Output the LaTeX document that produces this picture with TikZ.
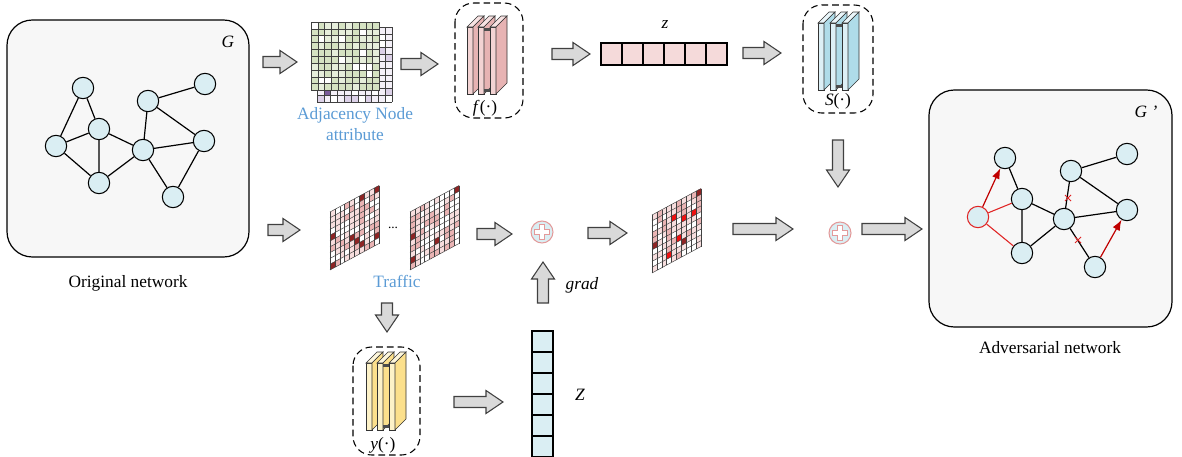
\documentclass[tikz,border=0pt]{standalone}
\usepackage{fontspec}
\setmainfont{Liberation Serif}
\usetikzlibrary{arrows.meta}

\definecolor{nodefill}{HTML}{DAEEF3}
\definecolor{panelfill}{HTML}{F7F7F7}
\definecolor{arrowfill}{HTML}{D9D9D9}
\definecolor{arrowline}{HTML}{404040}
\definecolor{captionblue}{HTML}{5B9BD5}
\definecolor{attackred}{HTML}{E02424}
\definecolor{arrowred}{HTML}{C00000}
\definecolor{plusline}{HTML}{E39A9A}
\definecolor{pkfront}{HTML}{F3D3D3}
\definecolor{pktop}{HTML}{F8E3E3}
\definecolor{pkside}{HTML}{E7B3B3}
\definecolor{blfront}{HTML}{DDF0F6}
\definecolor{bltop}{HTML}{EAF6FA}
\definecolor{blside}{HTML}{AFDCE9}
\definecolor{ywfront}{HTML}{FDF2C8}
\definecolor{ywtop}{HTML}{FEF7DC}
\definecolor{ywside}{HTML}{FCE08C}
\definecolor{zpink}{HTML}{F5DADA}
\definecolor{zblue}{HTML}{DAEEF3}
\definecolor{tpinkA}{HTML}{F7DEDE}
\definecolor{tpinkB}{HTML}{EAB4B4}
\definecolor{tdark}{HTML}{8E2424}
\definecolor{tred}{HTML}{F01010}
\definecolor{gA}{HTML}{D5E2C2}
\definecolor{gB}{HTML}{E6EEDB}
\definecolor{lvA}{HTML}{F4F0F8}
\definecolor{lvB}{HTML}{DCD1E8}
\definecolor{lvC}{HTML}{7B5C9B}

\tikzset{
  panel/.style={draw=black, line width=0.9pt, fill=panelfill, rounded corners=19pt},
  gnode/.style={circle, draw=black, fill=nodefill, line width=0.8pt, minimum size=16pt, inner sep=0pt},
  gedge/.style={line width=0.9pt},
  redge/.style={attackred, line width=0.8pt},
  rarrow/.style={arrowred, line width=0.9pt, -{Latex[length=8pt,width=6pt]}},
  dashbox/.style={draw=black, line width=0.8pt, dash pattern=on 5pt off 3pt, rounded corners=14pt},
  slabline/.style={draw=black!80, line width=0.5pt},
  cellline/.style={draw=black!75, line width=0.35pt},
  lbl/.style={inner sep=0pt},
  pics/barrow/.style={code={
    \draw[fill=arrowfill, draw=arrowline, line width=0.8pt]
      (0,-5.5) -- (#1-17,-5.5) -- (#1-17,-11.5) -- (#1,0) -- (#1-17,11.5) -- (#1-17,5.5) -- (0,5.5) -- cycle;}},
  pics/slab/.style={code={
    \draw[slabline, fill=#1front] (0,0) rectangle (6,67);
    \draw[slabline, fill=#1top] (0,0) -- (11,-11) -- (17,-11) -- (6,0) -- cycle;
    \draw[slabline, fill=#1side] (6,0) -- (17,-11) -- (17,56) -- (6,67) -- cycle;}},
  pics/plusmark/.style={code={
    \draw[plusline, fill=white, line width=0.7pt]
      (-2.8,-7.5) -- (2.8,-7.5) -- (2.8,-2.8) -- (7.5,-2.8) -- (7.5,2.8) -- (2.8,2.8)
      -- (2.8,7.5) -- (-2.8,7.5) -- (-2.8,2.8) -- (-7.5,2.8) -- (-7.5,-2.8) -- (-2.8,-2.8) -- cycle;}},
}

% skewed traffic matrix: origin, random seed, list of i/j/colour cells
\newcommand\skewgrid[3]{%
  \begin{scope}[shift={#1}, x={(3.675pt,1.9875pt)}, y={(0pt,-4.35pt)}]
    \pgfmathsetseed{#2}%
    \foreach \i in {0,...,9}{%
      \foreach \j in {0,...,9}{%
        \pgfmathrandominteger{\rv}{1}{100}%
        \ifnum\rv<36 \def\cc{white}\else\ifnum\rv<74 \def\cc{tpinkA}\else\ifnum\rv<98 \def\cc{tpinkB}\else\def\cc{tdark}\fi\fi\fi
        \fill[\cc] (\i,\j) -- ++(1,0) -- ++(0,1) -- ++(-1,0) -- cycle;
      }}%
    \foreach \i/\j/\cl in {#3}{\fill[\cl] (\i,\j) -- ++(1,0) -- ++(0,1) -- ++(-1,0) -- cycle;}%
    \foreach \k in {0,...,10}{\draw[cellline] (\k,0) -- (\k,10); \draw[cellline] (0,\k) -- (10,\k);}%
  \end{scope}}

\begin{document}
\begin{tikzpicture}[x=0.75pt, y=-0.75pt, font=\fontsize{13}{15}\selectfont]
\useasboundingbox (0,0) rectangle (1182,457);

% ---------- original network ----------
\draw[panel] (7,20) rectangle (249,257);
\node[lbl] (glabel) at (228,42) {\textit{G}};
\node[gnode] (a) at (83,88) {};
\node[gnode] (b) at (99,129) {};
\node[gnode] (c) at (56,146) {};
\node[gnode] (d) at (99,183) {};
\node[gnode] (e) at (143,150) {};
\node[gnode] (f) at (148,101) {};
\node[gnode] (g) at (205,84) {};
\node[gnode] (h) at (204,141) {};
\node[gnode] (i) at (173,197) {};
\draw[gedge] (a)--(c) (a)--(b) (c)--(b) (b)--(d) (c)--(d) (b)--(e) (d)--(e)
  (e)--(f) (f)--(g) (f)--(h) (e)--(h) (e)--(i) (h)--(i);
\node (cap1) at (128,283) {Original network};

% ---------- adjacency and attribute matrices ----------
\pgfmathsetseed{23}
\foreach \i in {0,...,10}{\foreach \j in {0,...,10}{
  \pgfmathrandominteger{\rv}{1}{100}
  \ifnum\rv<70 \def\cc{lvA}\else\ifnum\rv<90 \def\cc{white}\else\def\cc{lvB}\fi\fi
  \fill[\cc] (317+\i*6.82,27+\j*6.82) rectangle ++(6.82,6.82);
}}
\foreach \i/\j/\cl in {1/9/lvC, 7/10/lvB, 0/10/lvB, 4/10/lvB, 10/4/lvB, 9/3/lvB, 10/9/lvB}{
  \fill[\cl] (317+\i*6.82,27+\j*6.82) rectangle ++(6.82,6.82);}
\foreach \k in {0,...,11}{
  \draw[cellline] (317+\k*6.82,27) -- ++(0,75);
  \draw[cellline] (317,27+\k*6.82) -- ++(75,0);}
\pgfmathsetseed{5}
\foreach \i in {0,...,9}{\foreach \j in {0,...,9}{
  \pgfmathrandominteger{\rv}{1}{100}
  \ifnum\rv<9 \def\cc{white}\else\ifnum\rv<40 \def\cc{gB}\else\def\cc{gA}\fi\fi
  \fill[\cc] (311+\i*6.85,22+\j*6.85) rectangle ++(6.85,6.85);
}}
\foreach \k in {0,...,10}{
  \draw[cellline] (311+\k*6.85,22) -- ++(0,68.5);
  \draw[cellline] (311,22+\k*6.85) -- ++(68.5,0);}
\node[text=captionblue] (adjcap) at (355,115) {Adjacency Node};
\node[text=captionblue] (attcap) at (355,135) {attribute};

% ---------- encoder f ----------
\draw[dashbox] (455,3) rectangle (523,118);
\pic at (467,27) {slab=pk};
\pic at (478,27) {slab=pk};
\fill[black!70] (484,28) rectangle (490,31);
\fill[black!70] (484,89) rectangle (490,92);
\pic at (490,27) {slab=pk};
\node[lbl] (flabel) at (485,108) {\textit{f}(·)};

% ---------- latent vector z ----------
\foreach \k in {0,...,5}{\draw[fill=zpink, line width=0.8pt] (601+\k*21,43) rectangle ++(21,22);}
\node[lbl] (zlabel) at (665,25) {\textit{z}};

% ---------- decoder S ----------
\draw[dashbox] (803,5) rectangle (873,113);
\pic at (818,23) {slab=bl};
\pic at (830,23) {slab=bl};
\fill[black!70] (836,24) rectangle (842,27);
\fill[black!70] (836,85) rectangle (842,88);
\pic at (842,23) {slab=bl};
\node[lbl] (slabel) at (838,101) {\textit{S}(·)};

% ---------- traffic matrices ----------
\skewgrid{(330,212)}{3}{0/4/tdark, 9/0/tdark, 0/9/tdark, 5/7/tdark, 2/4/white, 3/4/white}
\skewgrid{(410,212)}{8}{0/4/tdark, 9/0/tdark, 0/8/tdark, 5/7/tdark, 2/3/white}
\node (dots) at (393,228) {\fontsize{10}{12}\selectfont ...};
\node[text=captionblue] (trcap) at (397,281) {Traffic};

% ---------- perturbed matrix ----------
\skewgrid{(652,215)}{17}{4/2/tred, 6/3/tred, 8/3/tred, 5/6/tred, 6/7/tdark, 3/8/tred, 0/5/tdark, 9/0/tdark, 4/5/white}

% ---------- sum nodes ----------
\node[circle, draw=plusline, fill=nodefill, line width=0.8pt, minimum size=16.5pt, inner sep=0pt] (p1) at (542,232) {};
\pic at (p1) {plusmark};
\node[circle, draw=plusline, fill=nodefill, line width=0.8pt, minimum size=16.5pt, inner sep=0pt] (p2) at (840,233) {};
\pic at (p2) {plusmark};
\node[lbl] (gradlabel) at (582,285) {\textit{grad}};

% ---------- surrogate y and gradient vector Z ----------
\draw[dashbox] (353,347) rectangle (420,455);
\pic at (366,363) {slab=yw};
\pic at (377,363) {slab=yw};
\fill[black!70] (383,364) rectangle (389,367);
\fill[black!70] (383,425) rectangle (389,428);
\pic at (389,363) {slab=yw};
\node[lbl] (ylabel) at (383,445) {\textit{y}(·)};
\foreach \k in {0,...,5}{\draw[fill=zblue, line width=0.8pt] (532,331+\k*21) rectangle ++(21,21);}
\node[lbl] (Zlabel) at (580,395) {\textit{Z}};

% ---------- block arrows ----------
\pic at (263,62) {barrow=34};
\pic at (401,64) {barrow=37};
\pic at (552,54) {barrow=38};
\pic at (743,53) {barrow=38};
\pic[rotate=-90] at (838,140) {barrow=47};
\pic at (268,230) {barrow=32};
\pic at (477,234) {barrow=35};
\pic at (588,233) {barrow=39};
\pic at (733,229) {barrow=60};
\pic at (862,229) {barrow=60};
\pic[rotate=90] at (543,303) {barrow=41};
\pic[rotate=-90] at (387,303) {barrow=29};
\pic at (454,402) {barrow=49};

% ---------- adversarial network ----------
\draw[panel] (929,90) rectangle (1172,327);
\node[lbl] (gplabel) at (1146,112) {\textit{G ’}};
\node[gnode] (ra) at (1005,158) {};
\node[gnode] (rb) at (1022,199) {};
\node[gnode, draw=attackred] (rc) at (978,217) {};
\node[gnode] (rd) at (1022,253) {};
\node[gnode] (re) at (1064,219) {};
\node[gnode] (rf) at (1071,171) {};
\node[gnode] (rg) at (1127,154) {};
\node[gnode] (rh) at (1127,210) {};
\node[gnode] (ri) at (1095,267) {};
\draw[gedge] (rb)--(ra) (rb)--(rd) (rb)--(re) (rd)--(re) (re)--(rf) (rf)--(rg)
  (rf)--(rh) (re)--(rh) (re)--(ri);
\draw[redge] (rc)--(rb) (rc)--(rd);
\draw[rarrow] (rc)--(ra);
\draw[rarrow] (ri)--(rh);
\draw[attackred, line width=0.6pt] (1065,195)--(1071,201) (1065,201)--(1071,195);
\draw[attackred, line width=0.6pt] (1075,237)--(1081,243) (1075,243)--(1081,237);
\node (cap2) at (1050,348) {Adversarial network};
\end{tikzpicture}
\end{document}
